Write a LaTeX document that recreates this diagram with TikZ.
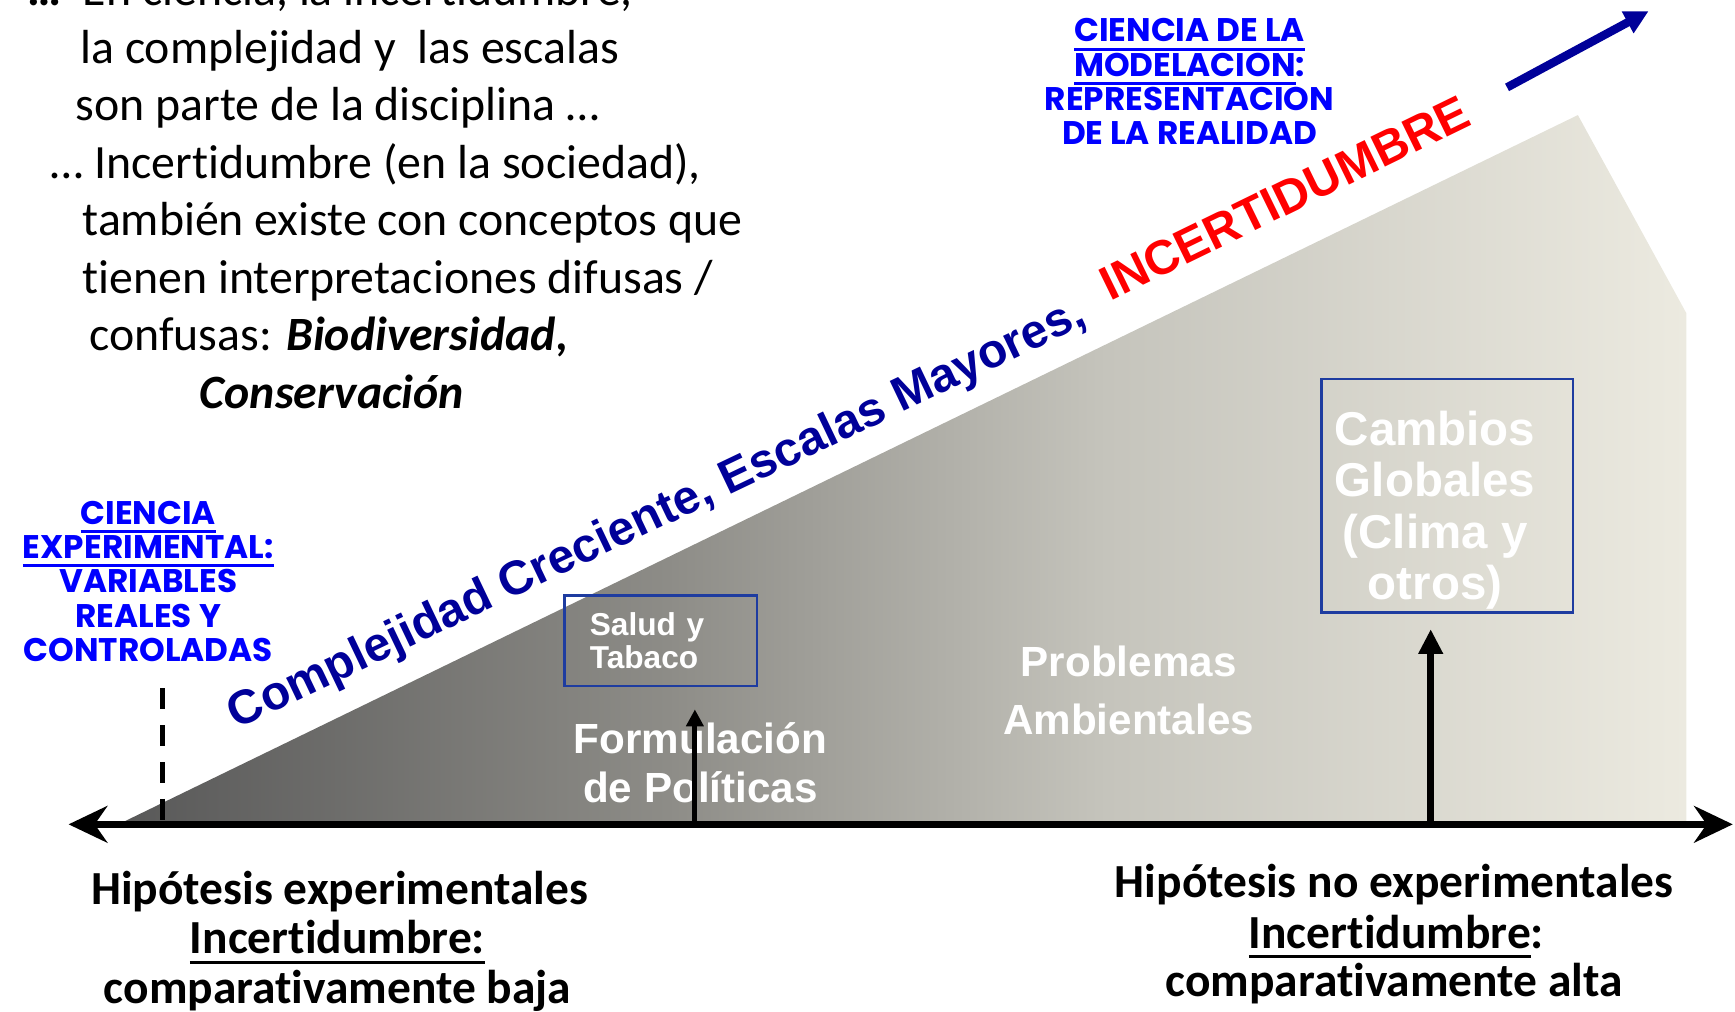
\documentclass[tikz,border=0pt]{standalone}
\usepackage{fontspec}
\setmainfont{Carlito}[Ligatures=NoCommon]
\newfontfamily\arialfont{Liberation Sans}
\newfontfamily\comicfont{Poppins}
\usetikzlibrary{arrows.meta,positioning}

\definecolor{ejeBlue}{RGB}{0,0,153}
\definecolor{cienBlue}{RGB}{0,0,255}
\definecolor{boxBlue}{RGB}{30,60,160}
\definecolor{slopeA}{RGB}{88,88,88}
\definecolor{slopeB}{RGB}{141,140,135}
\definecolor{slopeC}{RGB}{197,196,188}
\definecolor{slopeD}{RGB}{236,234,224}
\pgfdeclarehorizontalshading{slopeShade}{100bp}{color(0bp)=(slopeA); color(25bp)=(slopeA); color(42.5bp)=(slopeB); color(56.5bp)=(slopeC); color(75bp)=(slopeD); color(100bp)=(slopeD)}

% underline with its own depth
\newcommand\ulbar[2][2pt]{\setbox0=\hbox{#2}\rlap{\vrule height -#1 depth \dimexpr #1+0.9pt\relax width \wd0}\box0}

\begin{document}
\begin{tikzpicture}[x=0.011065cm, y=-0.011065cm,
    txt/.style={inner sep=0pt, anchor=base west, font=\fontsize{13.6}{16.4}\selectfont},
    hipo/.style={inner sep=0pt, anchor=base, font=\fontsize{13.5}{15}\selectfont\bfseries},
    cien/.style={inner sep=0pt, anchor=north, align=center, text=cienBlue, font=\comicfont\bfseries\fontsize{9.3}{9.8}\selectfont},
    caja/.style={draw=boxBlue, line width=0.7pt},
    blanco/.style={inner sep=0pt, anchor=north, align=center, text=white},
    eje/.style={line width=2pt, {Stealth[length=11pt,width=10.4pt]}-{Stealth[length=11pt,width=10.4pt]}},
    subida/.style={-{Triangle[length=4.8pt,width=4.8pt]}, line width=1.4pt},
    tendencia/.style={-{Triangle[length=6.8pt,width=6.6pt]}, line width=2.4pt, ejeBlue}]
    \useasboundingbox (0,0) rectangle (1568,914);

    % slope of complexity
    \shade[shading=slopeShade] (107,745) -- (1426,104) -- (1524,283) -- (1524,745) -- cycle;

    \node[txt] at (24,5) (linea0) {\textbf{…}\ \ En ciencia, la incertidumbre,};
    \node[txt] at (72,57) (linea1) {la complejidad y\ \ las escalas};
    \node[txt] at (68,109) (linea2) {son parte de la disciplina …};
    \node[txt] at (45,161) (linea3) {… Incertidumbre (en la sociedad),};
    \node[txt] at (74,213) (linea4) {también existe con conceptos que};
    \node[txt] at (74,265) (linea5) {tienen interpretaciones difusas /};
    \node[txt] at (80,317) (linea6) {confusas: \textbf{\textit{Biodiversidad,}}};
    \node[txt] at (180,369) (linea7) {\textbf{\textit{Conservación}}};

    \node[cien] at (1075,16) (cienMod) {\ulbar[1.7pt]{CIENCIA DE LA}\\\ulbar[1.7pt]{MODELACION}:\\REPRESENTACION\\DE LA REALIDAD};
    \node[cien] at (134,452) (cienExp) {\ulbar[1.6pt]{CIENCIA}\\\ulbar[1.6pt]{EXPERIMENTAL:}\\VARIABLES\\REALES Y\\CONTROLADAS};

    \node[rotate=25.5, inner sep=0pt, text=ejeBlue, font=\arialfont\bfseries\fontsize{13.6}{15}\selectfont] at (594,466) (complej) {Complejidad Creciente, Escalas Mayores,};
    \node[rotate=26, inner sep=0pt, text=red, font=\arialfont\bfseries\fontsize{13.7}{15}\selectfont] at (1161,179) (incert) {INCERTIDUMBRE};
    \coordinate (tendA) at (1362,79);
    \coordinate (tendB) at (1490,10);
    \draw[tendencia] (tendA) -- (tendB);

    \node[caja, text=white, align=left, text width=1.415cm, inner xsep=0.255cm, minimum height=0.907cm, font=\arialfont\bfseries\fontsize{9}{9.4}\selectfont] at (597,579) (salud) {Salud y\\Tabaco};
    \node[caja, minimum width=2.512cm, minimum height=2.335cm] at (1308,448) (cambios) {};
    \node[blanco, font=\arialfont\bfseries\fontsize{13.5}{14.6}\selectfont] at (1297,371) (cambiosTxt) {Cambios\\Globales\\(Clima y\\otros)};
    \node[blanco, font=\arialfont\bfseries\fontsize{12}{14.2}\selectfont] at (633,652) (formul) {Formulación\\de Políticas};
    \node[blanco, font=\arialfont\bfseries\fontsize{12}{16.4}\selectfont] at (1020,583) (problemas) {Problemas\\Ambientales};

    \node[hipo] at (307,817) (hipExp) {Hipótesis experimentales};
    \node[hipo] at (305,862) (incExp) {\ulbar{Incertidumbre:}};
    \node[hipo] at (305,907) (compExp) {comparativamente baja};
    \node[hipo] at (1260,811) (hipNoExp) {Hipótesis no experimentales};
    \node[hipo] at (1262,857) (incNoExp) {\ulbar{Incertidumbre}:};
    \node[hipo] at (1260,901) (compNoExp) {comparativamente alta};

    % axis and markers
    \coordinate (ejeL) at (62,745);
    \coordinate (ejeR) at (1566,745);
    \coordinate (dashTop) at (147,622);
    \coordinate (dashBot) at (147,745);
    \coordinate (formulPie) at (628,745);
    \coordinate (cambiosPie) at (1293,745);
    \draw[line width=1.6pt, dash pattern=on 6pt off 4.5pt] (dashTop) -- (dashBot);
    \draw[subida, shorten >=6.3pt] (formulPie) -- (formulPie |- salud.south);
    \draw[subida, line width=2pt, -{Triangle[length=7pt,width=6.6pt]}, shorten >=4.4pt] (cambiosPie) -- (cambiosPie |- cambios.south);
    \draw[eje] (ejeL) -- (ejeR);
\end{tikzpicture}
\end{document}
